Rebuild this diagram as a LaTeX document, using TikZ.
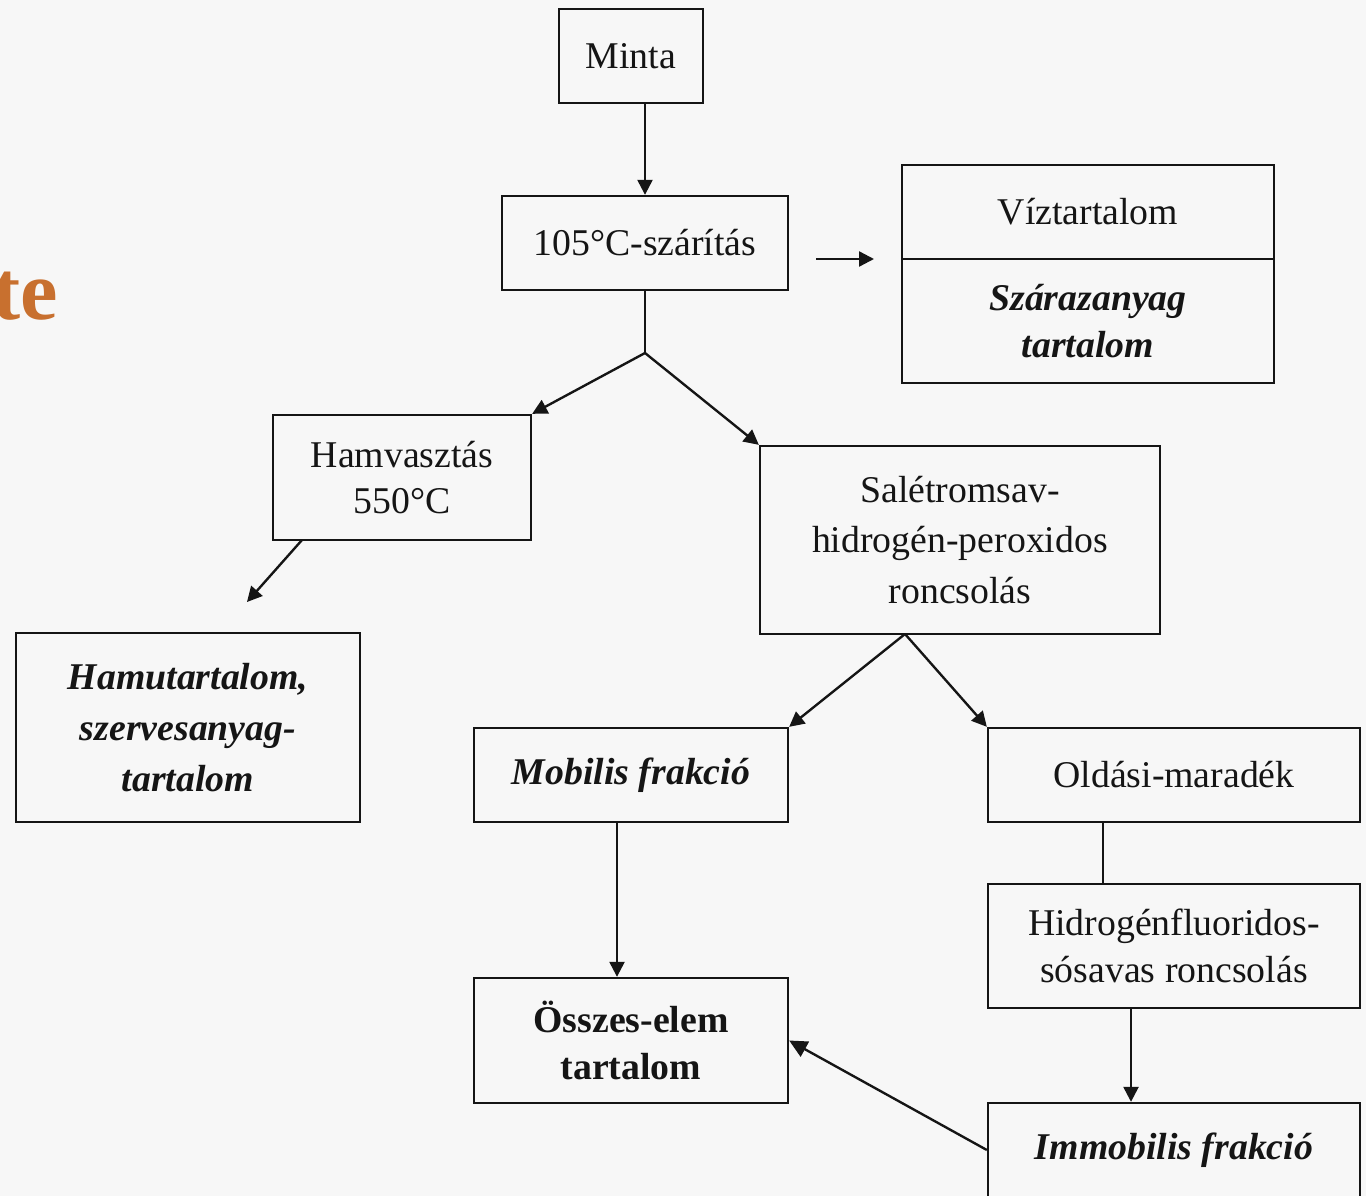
\documentclass[tikz,border=0pt]{standalone}
\usepackage{fontspec}
\setmainfont{Liberation Serif}
\usetikzlibrary{arrows.meta}
\definecolor{paper}{HTML}{F7F7F7}
\definecolor{ink}{HTML}{151515}
\definecolor{rust}{HTML}{C8702F}
\begin{document}
\begin{tikzpicture}[x=0.02cm,y=-0.02cm,
  box/.style={draw=ink, line width=1.35pt, inner sep=2pt, align=center,
    text=ink, font=\fontsize{21.5}{27}\selectfont},
  emph/.style={box, font=\fontsize{21.5}{27}\selectfont\bfseries\itshape},
  flow/.style={draw=ink, line width=1.35pt, -{Triangle[length=0.3cm,width=0.3cm]}},
  link/.style={draw=ink, line width=1.35pt}]
  % page
  \fill[paper] (0,0) rectangle (1366,1196);
  \useasboundingbox (0,0) rectangle (1366,1196);
  \node[anchor=base east, text=rust, font=\fontsize{48}{48}\selectfont\bfseries] (te) at (64,319) {te};

  % boxes
  \node[box, minimum width=2.88cm, minimum height=1.88cm] (minta) at (631,56) {Minta};
  \node[box, minimum width=5.72cm, minimum height=1.88cm] (dry) at (645,243) {105°C-szárítás};
  \node[box, minimum width=7.44cm, minimum height=1.88cm] (viz) at (1088,212) {Víztartalom};
  \node[emph, minimum width=7.44cm, minimum height=2.48cm] (szaraz) at (1088,321) {Szárazanyag\\tartalom};
  \node[box, minimum width=5.16cm, minimum height=2.5cm, font=\fontsize{21.5}{26}\selectfont] (hamv) at (402,477.5) {Hamvasztás\\550°C};
  \node[emph, minimum width=6.88cm, minimum height=3.78cm, font=\fontsize{21.5}{29}\selectfont\bfseries\itshape] (hamu) at (188,727.5) {Hamutartalom,\\szervesanyag-\\tartalom};
  \node[box, minimum width=8.0cm, minimum height=3.76cm, font=\fontsize{21.5}{28.5}\selectfont] (salet) at (960,540) {Salétromsav-\\hidrogén-peroxidos\\roncsolás};
  \node[emph, minimum width=6.28cm, minimum height=1.88cm] (mob) at (631,775) {Mobilis frakció};
  \node[box, minimum width=7.44cm, minimum height=1.88cm] (olda) at (1174,775) {Oldási-maradék};
  \node[box, minimum width=7.44cm, minimum height=2.48cm] (hidro) at (1174,946) {Hidrogénfluoridos-\\sósavas roncsolás};
  \node[emph, minimum width=7.44cm, minimum height=1.88cm] (immob) at (1174,1150) {Immobilis frakció};
  \node[box, minimum width=6.28cm, minimum height=2.5cm, font=\fontsize{21.5}{27}\selectfont\bfseries] (total) at (631,1040.5) {Összes-elem\\tartalom};

  % connectors
  \draw[flow] (minta.south -| dry.north) -- (dry.north);
  \coordinate (fa) at (816,259);
  \coordinate (fb) at (874,259);
  \draw[flow] (fa) -- (fb);
  \coordinate (split) at (645,353);
  \draw[link] (dry.south) -- (split);
  \draw[flow] (split) -- (hamv.north east);
  \draw[flow] (split) -- (salet.north west);
  \coordinate (ha) at (302,540);
  \coordinate (hb) at (247,602);
  \draw[flow] (ha) -- (hb);
  \coordinate (sfork) at (905,634);
  \draw[flow] (sfork) -- (mob.north east);
  \draw[flow] (sfork) -- (olda.north west);
  \draw[link] ([xshift=-1.42cm]olda.south) -- ([xshift=-1.42cm]hidro.north);
  \draw[flow] ([xshift=-0.86cm]hidro.south) -- ([xshift=-0.86cm]immob.north);
  \draw[flow] ([xshift=-0.28cm]mob.south) -- ([xshift=-0.28cm]total.north);
  \draw[flow, -{Triangle[length=0.36cm,width=0.34cm]}] (immob.west) -- (total.east);
\end{tikzpicture}
\end{document}
